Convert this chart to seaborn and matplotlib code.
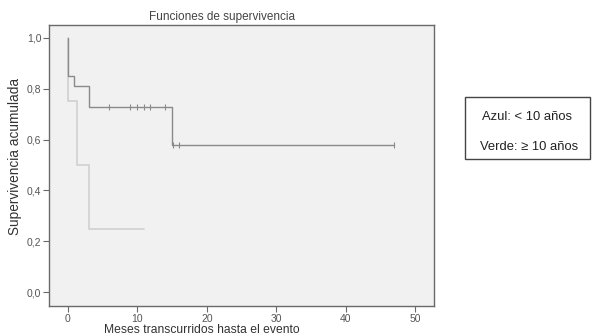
import numpy as np
import pandas as pd
import matplotlib
matplotlib.use("Agg")
import matplotlib.pyplot as plt
from matplotlib.patches import Rectangle
import seaborn as sns

# Curva 1 (más oscura): tiempos de evento y supervivencia
tiempo_1 = [0, 0, 0.9, 3.0, 15.0, 47.0]
superv_1 = [1.0, 0.85, 0.81, 0.73, 0.58, 0.58]
# censuras curva 1
cens_t_1 = [5.9, 8.9, 9.9, 10.9, 11.9, 14.0, 15.1, 16.0, 47.0]
cens_s_1 = [0.73, 0.73, 0.73, 0.73, 0.73, 0.73, 0.58, 0.58, 0.58]

# Curva 2 (más clara)
tiempo_2 = [0, 0, 1.3, 3.0, 11.0]
superv_2 = [1.0, 0.75, 0.50, 0.25, 0.25]

xticks = [0, 10, 20, 30, 40, 50]
yticks = [0.0, 0.2, 0.4, 0.6, 0.8, 1.0]
ytick_labels = ["0,0", "0,2", "0,4", "0,6", "0,8", "1,0"]
leyenda = ["Azul: < 10 años", "Verde: \u2265 10 años"]

sns.set_style("ticks", {"axes.facecolor": "#f1f1f1", "axes.edgecolor": "#6a6a6a"})
plt.rcParams["font.family"] = ["Liberation Sans", "DejaVu Sans"]

W, H = 592, 336
fig = plt.figure(figsize=(5.92, 3.36), dpi=100)
ax = fig.add_axes([49 / W, 1 - 306 / H, 385 / W, 281 / H])

df1 = pd.DataFrame({"t": tiempo_1, "s": superv_1})
df2 = pd.DataFrame({"t": tiempo_2, "s": superv_2})
sns.lineplot(data=df2, x="t", y="s", drawstyle="steps-post", color="#d0d0d0",
             linewidth=1.2, sort=False, estimator=None, ax=ax)
sns.lineplot(data=df1, x="t", y="s", drawstyle="steps-post", color="#8a8a8a",
             linewidth=1.0, sort=False, estimator=None, ax=ax)
sns.scatterplot(x=cens_t_1, y=cens_s_1, marker="|", s=14, color="#8a8a8a",
                linewidth=0.8, ax=ax)

ax.set_xlim(-2.7, 52.7)
ax.set_ylim(-0.055, 1.051)
ax.set_xticks(xticks)
ax.set_yticks(yticks)
ax.set_yticklabels(ytick_labels)
ax.tick_params(labelsize=7.5, colors="#6a6a6a", labelcolor="#555555", length=4, width=0.8, pad=1.5)
for sp in ax.spines.values():
    sp.set_linewidth(1.0)

fig.text(222 / W, 1 - 17 / H, "Funciones de supervivencia", fontsize=8.5,
         color="#444444", ha="center", va="center")
ax.set_xlabel("")
ax.set_ylabel("")
fig.text(202 / W, 1 - 330 / H, "Meses transcurridos hasta el evento", fontsize=8.7,
         color="#333333", ha="center", va="center")
fig.text(15 / W, 1 - 156 / H, "Supervivencia acumulada", fontsize=9.8,
         color="#333333", ha="center", va="center", rotation=90)

fig.patches.append(Rectangle((465 / W, 1 - 159 / H), 125 / W, 62 / H,
                             transform=fig.transFigure, facecolor="white",
                             edgecolor="#444444", linewidth=1.0))
fig.text(527 / W, 1 - 117 / H, leyenda[0], fontsize=9.4, color="#222222", ha="center", va="center")
fig.text(529 / W, 1 - 147 / H, leyenda[1], fontsize=9.4, color="#222222", ha="center", va="center")

fig.savefig("out.png", dpi=100)
